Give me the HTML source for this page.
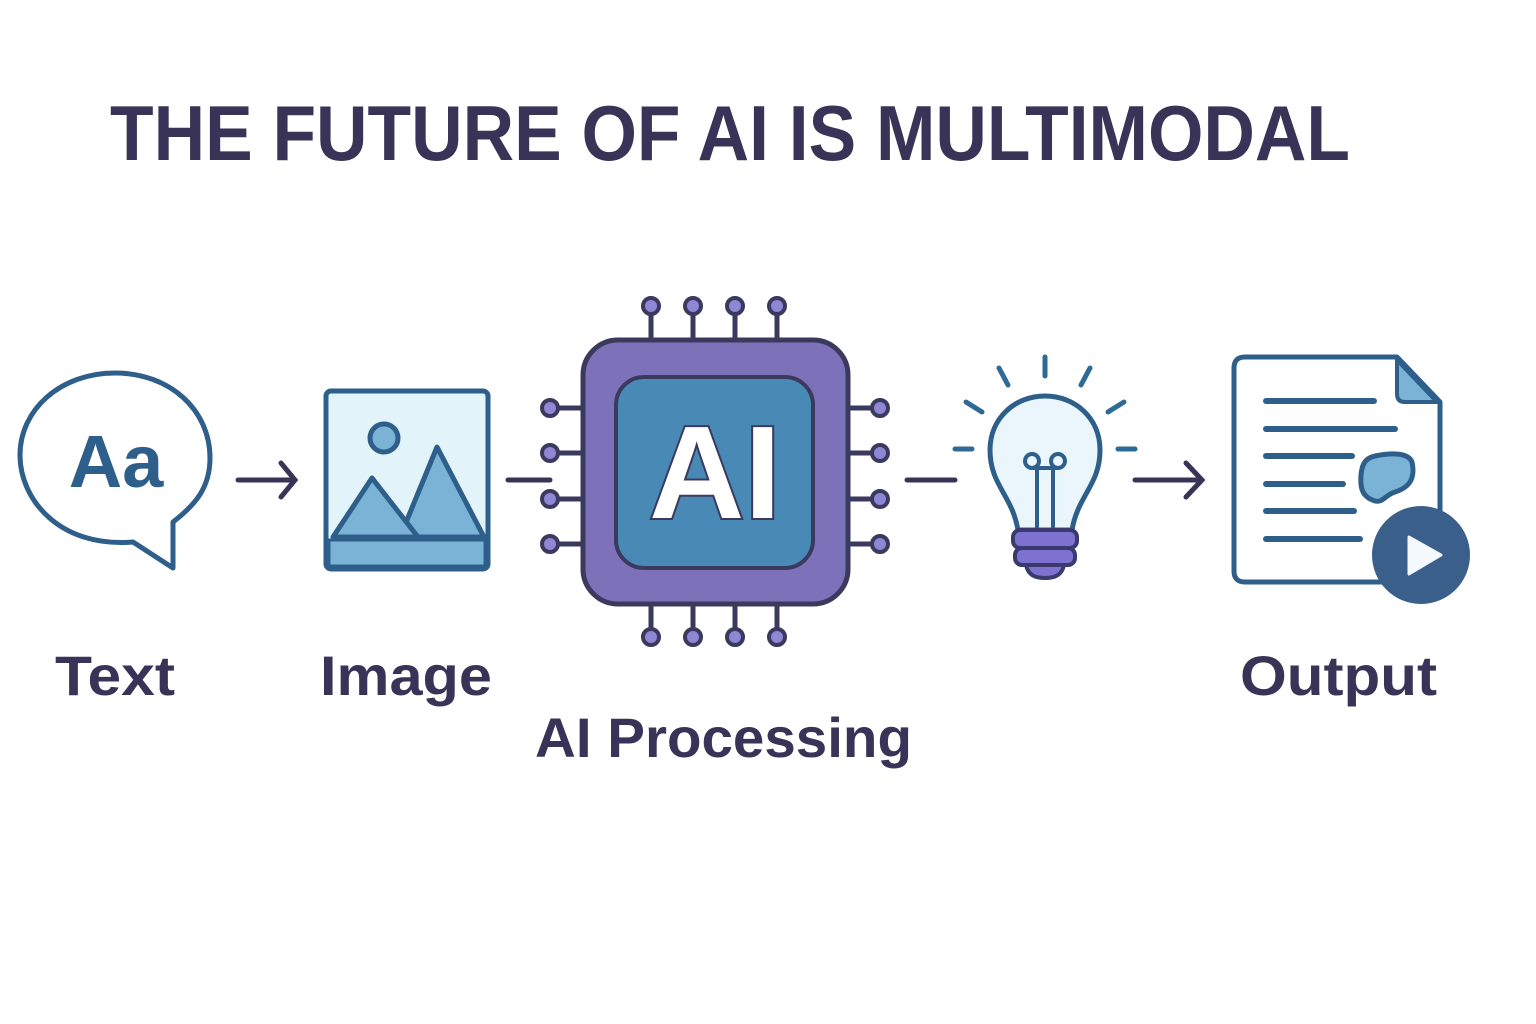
<!DOCTYPE html>
<html><head><meta charset="utf-8"><style>
html,body{margin:0;padding:0;background:#fff;}
svg{display:block;}
text{font-family:"Liberation Sans",sans-serif;font-weight:bold;}
</style></head><body>
<svg width="1536" height="1024" viewBox="0 0 1536 1024" xmlns="http://www.w3.org/2000/svg">
<rect width="1536" height="1024" fill="#fff"/>
<text x="110" y="160" font-size="78" fill="#3a3358" textLength="1240" lengthAdjust="spacingAndGlyphs">THE FUTURE OF AI IS MULTIMODAL</text>

<!-- speech bubble -->
<path d="M133,542 C60,548 20,500 20,455 C20,410 60,373 115,373 C170,373 210,410 210,458 C210,488 195,505 173,522 L173,568 Z" fill="#fff" stroke="#2e5f8a" stroke-width="5" stroke-linejoin="round"/>
<text x="116" y="487" font-size="74" fill="#2e5f8a" text-anchor="middle">Aa</text>

<g stroke="#3a3358" stroke-width="5" stroke-linecap="round" fill="none">
<line x1="238" y1="480" x2="293" y2="480"/><polyline points="281,463 295,480 281,497"/>
<line x1="508" y1="480" x2="550" y2="480"/>
<line x1="907" y1="480" x2="955" y2="480"/>
<line x1="1135" y1="480" x2="1200" y2="480"/><polyline points="1186,463 1202,480 1186,497"/>
</g>

<!-- image -->
<rect x="326" y="391" width="162" height="178" rx="5" fill="#e2f4f9" stroke="#2e5f8a" stroke-width="5"/>
<rect x="329" y="540" width="156" height="26" fill="#7ab3d6" stroke="#2e5f8a" stroke-width="3"/>
<circle cx="384" cy="438" r="14" fill="#7ab3d6" stroke="#2e5f8a" stroke-width="5"/>
<polygon points="400,537 437,447 484,537" fill="#7ab3d6" stroke="#2e5f8a" stroke-width="5" stroke-linejoin="round"/>
<polygon points="333,537 372,478 418,537" fill="#7ab3d6" stroke="#2e5f8a" stroke-width="5" stroke-linejoin="round"/>

<!-- chip pins -->
<g stroke="#3a3a5e" stroke-width="5" fill="#8f86d4">
<line x1="651" y1="306" x2="651" y2="340"/><line x1="693" y1="306" x2="693" y2="340"/><line x1="735" y1="306" x2="735" y2="340"/><line x1="777" y1="306" x2="777" y2="340"/>
<line x1="651" y1="604" x2="651" y2="637"/><line x1="693" y1="604" x2="693" y2="637"/><line x1="735" y1="604" x2="735" y2="637"/><line x1="777" y1="604" x2="777" y2="637"/>
<line x1="550" y1="408" x2="583" y2="408"/><line x1="550" y1="453" x2="583" y2="453"/><line x1="550" y1="499" x2="583" y2="499"/><line x1="550" y1="544" x2="583" y2="544"/>
<line x1="848" y1="408" x2="880" y2="408"/><line x1="848" y1="453" x2="880" y2="453"/><line x1="848" y1="499" x2="880" y2="499"/><line x1="848" y1="544" x2="880" y2="544"/>
<g stroke-width="4">
<circle cx="651" cy="306" r="8"/><circle cx="693" cy="306" r="8"/><circle cx="735" cy="306" r="8"/><circle cx="777" cy="306" r="8"/>
<circle cx="651" cy="637" r="8"/><circle cx="693" cy="637" r="8"/><circle cx="735" cy="637" r="8"/><circle cx="777" cy="637" r="8"/>
<circle cx="550" cy="408" r="8"/><circle cx="550" cy="453" r="8"/><circle cx="550" cy="499" r="8"/><circle cx="550" cy="544" r="8"/>
<circle cx="880" cy="408" r="8"/><circle cx="880" cy="453" r="8"/><circle cx="880" cy="499" r="8"/><circle cx="880" cy="544" r="8"/>
</g></g>
<rect x="583" y="340" width="265" height="264" rx="35" fill="#7d72ba" stroke="#3a3a5e" stroke-width="5"/>
<rect x="616" y="377" width="197" height="191" rx="28" fill="#4889b5" stroke="#3a3a5e" stroke-width="4"/>
<text x="715" y="518" font-size="132" fill="#fff" stroke="#3a3a5e" stroke-width="4" paint-order="stroke" text-anchor="middle">AI</text>

<!-- bulb -->
<g stroke="#2e6a96" stroke-width="5" stroke-linecap="round">
<line x1="1045" y1="357" x2="1045" y2="376"/><line x1="999" y1="368" x2="1008" y2="385"/><line x1="1090" y1="368" x2="1081" y2="385"/>
<line x1="966" y1="402" x2="982" y2="412"/><line x1="1124" y1="402" x2="1108" y2="412"/>
<line x1="955" y1="449" x2="972" y2="449"/><line x1="1118" y1="449" x2="1135" y2="449"/>
</g>
<path d="M1018,530 C1012,495 990,485 990,450 C990,418 1015,396 1045,396 C1075,396 1100,418 1100,450 C1100,485 1078,495 1072,530 Z" fill="#eaf6fb" stroke="#2e5f8a" stroke-width="5" stroke-linejoin="round"/>
<g stroke="#2e5f8a" stroke-width="4" fill="none">
<line x1="1037" y1="470" x2="1037" y2="530"/><line x1="1053" y1="470" x2="1053" y2="530"/>
<circle cx="1032" cy="461" r="7"/><circle cx="1058" cy="461" r="7"/><line x1="1032" y1="468" x2="1058" y2="468"/>
</g>
<path d="M1026,565 L1064,565 C1062,575 1055,578 1045,578 C1035,578 1028,575 1026,565Z" fill="#7d72d0" stroke="#3a3a6e" stroke-width="4"/>
<rect x="1013" y="530" width="64" height="18" rx="7" fill="#7d72d0" stroke="#3a3a6e" stroke-width="4"/>
<rect x="1015" y="548" width="60" height="17" rx="7" fill="#7d72d0" stroke="#3a3a6e" stroke-width="4"/>

<!-- document -->
<path d="M1245,357 L1397,357 L1440,402 L1440,582 L1245,582 Q1234,582 1234,571 L1234,368 Q1234,357 1245,357Z" fill="#fff" stroke="#2e5f8a" stroke-width="5" stroke-linejoin="round"/>
<path d="M1397,360 L1397,394 Q1397,402 1405,402 L1437,402 Z" fill="#7ab3d6" stroke="#2e5f8a" stroke-width="4" stroke-linejoin="round"/>
<g stroke="#2e5f8a" stroke-width="6" stroke-linecap="round">
<line x1="1266" y1="401" x2="1374" y2="401"/><line x1="1266" y1="429" x2="1395" y2="429"/>
<line x1="1266" y1="456" x2="1352" y2="456"/><line x1="1266" y1="484" x2="1343" y2="484"/>
<line x1="1266" y1="511" x2="1354" y2="511"/><line x1="1266" y1="539" x2="1360" y2="539"/>
</g>
<path d="M1375,456 C1390,453 1408,452 1412,462 C1416,480 1408,488 1395,492 C1385,495 1383,503 1375,501 C1362,497 1360,488 1361,475 C1362,463 1366,458 1375,456Z" fill="#7ab3d6" stroke="#2e5f8a" stroke-width="5"/>
<circle cx="1421" cy="555" r="49" fill="#3a5f8a"/>
<path d="M1409,537 L1441,555 L1409,574 Z" fill="#f3f9fc" stroke="#f3f9fc" stroke-width="3" stroke-linejoin="round"/>

<!-- labels -->
<text x="55" y="695" font-size="56" fill="#3a3358" textLength="120" lengthAdjust="spacingAndGlyphs">Text</text>
<text x="320" y="695" font-size="56" fill="#3a3358" textLength="172" lengthAdjust="spacingAndGlyphs">Image</text>
<text x="535" y="757" font-size="56" fill="#3a3358" textLength="377" lengthAdjust="spacingAndGlyphs">AI Processing</text>
<text x="1240" y="695" font-size="56" fill="#3a3358" textLength="197" lengthAdjust="spacingAndGlyphs">Output</text>
</svg>
</body></html>
